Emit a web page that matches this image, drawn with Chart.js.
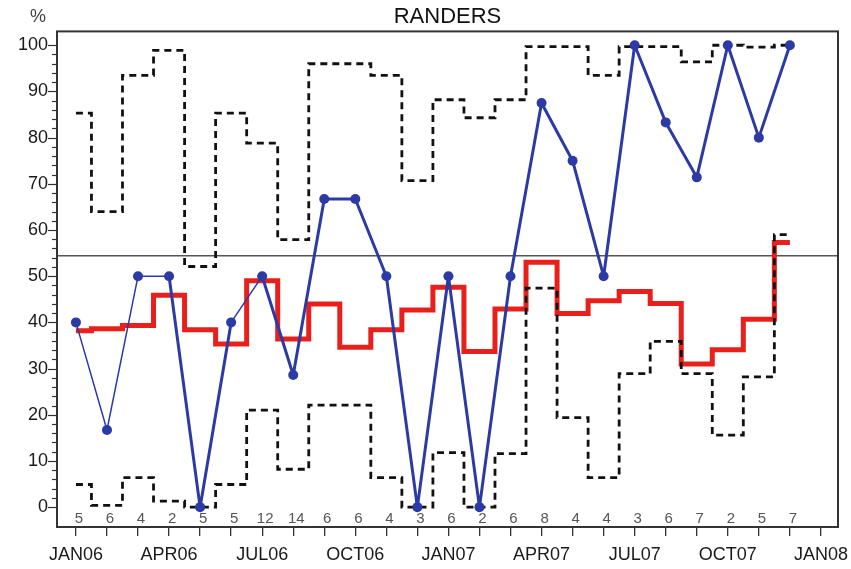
<!DOCTYPE html>
<html>
<head>
<meta charset="utf-8">
<script src="https://cdn.jsdelivr.net/npm/chart.js@4.4.1/dist/chart.umd.min.js"></script>
<style>
    body { margin: 0; background: #fff; }
    canvas { display: block; }
</style>
</head>
<body>
<canvas id="chart" width="851" height="569"></canvas>
<script>
// month index 0 = JAN06, one point per month through DEC07
const tickLabels = ['JAN06', 'APR06', 'JUL06', 'OCT06', 'JAN07', 'APR07', 'JUL07', 'OCT07', 'JAN08'];

// observed % per month (blue)
const pct = [40, 16.7, 50, 50, 0, 40, 50, 28.6, 66.7, 66.7, 50, 0, 50, 0, 50, 87.5, 75, 50, 100, 83.3, 71.4, 100, 80, 100];
// number of cases per month (printed along the bottom)
const counts = [5, 6, 4, 2, 5, 5, 12, 14, 6, 6, 4, 3, 6, 2, 6, 8, 4, 4, 3, 6, 7, 2, 5, 7];
// expected level (red step)
const expected = [38.2, 38.6, 39.3, 45.9, 38.4, 35.3, 49.0, 36.4, 44.0, 34.6, 38.4, 42.7, 47.6, 33.7, 42.9, 53.0, 41.9, 44.7, 46.7, 44.1, 31.0, 34.1, 40.7, 57.3];
// control limits (dashed steps)
const upper = [85.3, 64.0, 93.5, 98.9, 52.1, 85.3, 78.8, 57.9, 96.0, 96.0, 93.5, 70.7, 88.2, 84.3, 88.2, 99.7, 99.7, 93.5, 99.7, 99.7, 96.4, 100, 99.6, 100];
const lower = [4.9, 0.4, 6.4, 1.3, 0, 4.9, 21.0, 8.2, 22.1, 22.1, 6.4, 0, 11.8, 0, 11.6, 47.4, 19.4, 6.4, 28.9, 35.9, 28.9, 15.6, 28.2, 59.0];
// overall level (grey horizontal line)
const overall = 54.4;

// the first few segments of the blue line are drawn thinner
const thinSegments = [0, 1, 2, 5];

const X_MIN = -0.61, X_MAX = 24.55;
const FONT = '"Liberation Sans", Arial, sans-serif';

Chart.defaults.font.family = FONT;

const toPoints = arr => arr.map((v, i) => ({ x: i, y: v }));

// frame, overall line, minor ticks and counts
const extras = {
    id: 'extras',
    beforeDatasetsDraw(chart) {
        const { ctx, chartArea: a, scales: { y } } = chart;
        const yy = y.getPixelForValue(overall);
        ctx.save();
        ctx.strokeStyle = '#555';
        ctx.lineWidth = 1.5;
        ctx.beginPath();
        ctx.moveTo(a.left, yy);
        ctx.lineTo(a.right, yy);
        ctx.stroke();
        ctx.restore();
    },
    afterDraw(chart) {
        const { ctx, chartArea: a, scales: { x, y } } = chart;
        ctx.save();

        // y tick marks, long every 10
        ctx.strokeStyle = '#333';
        ctx.lineWidth = 1.2;
        for (let v = 0; v <= 100; v += 2) {
            const py = Math.round(y.getPixelForValue(v)) + 0.5;
            const len = v % 10 === 0 ? 9 : 5;
            ctx.beginPath();
            ctx.moveTo(a.left - len, py);
            ctx.lineTo(a.left, py);
            ctx.stroke();
        }

        // n per month
        ctx.font = '15px ' + FONT;
        ctx.fillStyle = '#555';
        ctx.textAlign = 'center';
        ctx.textBaseline = 'middle';
        counts.forEach((n, i) => {
            ctx.fillText(String(n), x.getPixelForValue(i) + 3, y.getPixelForValue(-2.6));
        });

        // plot box
        ctx.strokeStyle = '#333';
        ctx.lineWidth = 2;
        ctx.strokeRect(a.left, a.top, a.width, a.height);

        // unit
        ctx.font = '18px ' + FONT;
        ctx.fillStyle = '#444';
        ctx.textAlign = 'center';
        ctx.fillText('%', a.left - 19, a.top - 14);
        ctx.restore();
    }
};

const noPad = s => { s.paddingLeft = 0; s.paddingRight = 0; };

new Chart(document.getElementById('chart'), {
    type: 'line',
    data: {
        datasets: [
            {
                label: '%',
                data: toPoints(pct),
                borderColor: '#2c3aa6',
                backgroundColor: '#2c3aa6',
                borderWidth: 3,
                borderJoinStyle: 'round',
                pointRadius: 5,
                pointBorderWidth: 0,
                segment: {
                    borderWidth: c => thinSegments.includes(c.p0DataIndex) ? 1.5 : 3
                },
                order: 0
            },
            {
                label: 'upper',
                data: toPoints(upper),
                borderColor: '#111',
                borderWidth: 2.8,
                borderDash: [7, 5],
                stepped: 'middle',
                pointRadius: 0,
                order: 1
            },
            {
                label: 'lower',
                data: toPoints(lower),
                borderColor: '#111',
                borderWidth: 2.8,
                borderDash: [7, 5],
                stepped: 'middle',
                pointRadius: 0,
                order: 1
            },
            {
                label: 'expected',
                data: toPoints(expected),
                borderColor: '#e8201c',
                borderWidth: 5,
                stepped: 'middle',
                pointRadius: 0,
                order: 2
            }
        ]
    },
    options: {
        responsive: false,
        animation: false,
        layout: { autoPadding: false, padding: { left: 0, right: 13, top: 0, bottom: 0 } },
        plugins: {
            legend: { display: false },
            tooltip: { enabled: false },
            title: {
                display: true,
                text: 'RANDERS',
                fullSize: false,
                color: '#111',
                font: { size: 22, weight: 'normal' },
                padding: { top: 4, bottom: 1 }
            }
        },
        scales: {
            y: {
                type: 'linear',
                min: -4.3,
                max: 103,
                afterBuildTicks: s => {
                    s.ticks = [];
                    for (let v = 0; v <= 100; v += 10) s.ticks.push({ value: v });
                },
                afterFit: s => { s.width = 57; s.paddingTop = 0; s.paddingBottom = 0; },
                grid: { display: false, drawTicks: false },
                border: { display: false },
                ticks: {
                    color: '#1a1a1a',
                    font: { size: 18 },
                    padding: 9
                }
            },
            x: {
                type: 'linear',
                position: 'bottom',
                min: X_MIN,
                max: X_MAX,
                afterBuildTicks: s => {
                    s.ticks = [];
                    for (let i = 0; i <= 24; i++) s.ticks.push({ value: i });
                },
                afterFit: s => { s.height = 10; noPad(s); },
                grid: {
                    drawOnChartArea: false,
                    drawTicks: true,
                    tickLength: 9,
                    color: '#333',
                    lineWidth: 1.3
                },
                border: { display: false },
                ticks: { display: false, autoSkip: false }
            },
            months: {
                type: 'linear',
                position: 'bottom',
                min: X_MIN,
                max: X_MAX,
                afterBuildTicks: s => {
                    s.ticks = tickLabels.map((_, i) => ({ value: i * 3 }));
                },
                afterFit: s => { s.height = 32; noPad(s); },
                grid: { display: false, drawTicks: false },
                border: { display: false },
                ticks: {
                    autoSkip: false,
                    maxRotation: 0,
                    color: '#1a1a1a',
                    font: { size: 18 },
                    padding: 7,
                    callback: (v, i) => tickLabels[i]
                }
            }
        }
    },
    plugins: [extras]
});
</script>
</body>
</html>
